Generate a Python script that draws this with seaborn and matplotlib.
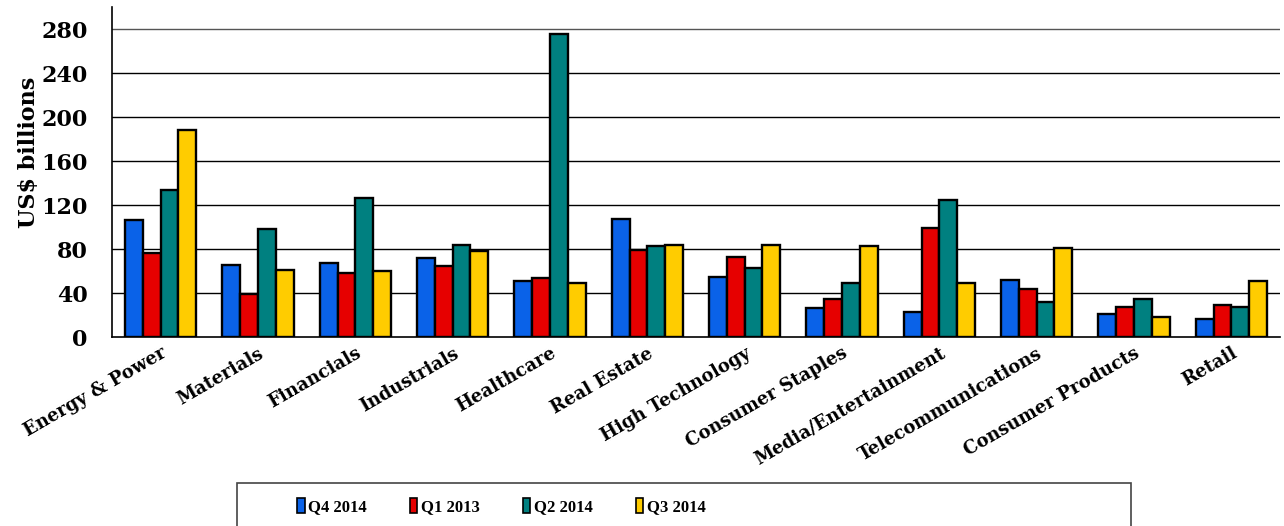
import numpy as np
import pandas as pd
import seaborn as sns
import matplotlib.pyplot as plt
from matplotlib.patches import Rectangle
from matplotlib.ticker import FixedLocator

sectors = ["Energy & Power", "Materials", "Financials", "Industrials", "Healthcare",
           "Real Estate", "High Technology", "Consumer Staples", "Media/Entertainment",
           "Telecommunications", "Consumer Products", "Retail"]
quarters = ["Q4 2014", "Q1 2013", "Q2 2014", "Q3 2014"]

q4_2014 = [106.6, 65.7, 67.2, 72.0, 51.5, 107.8, 55.1, 26.3, 22.7, 52.1, 21.5, 17.0]
q1_2013 = [76.9, 39.4, 58.1, 64.5, 53.9, 79.3, 72.7, 34.8, 99.3, 43.9, 27.6, 29.7]
q2_2014 = [133.5, 98.7, 126.2, 83.9, 275.8, 83.0, 63.0, 49.0, 124.7, 32.1, 35.1, 27.6]
q3_2014 = [188.0, 60.9, 59.9, 78.7, 49.0, 84.2, 83.6, 83.0, 49.7, 81.4, 18.2, 51.5]

colors = ["#0A62E8", "#E60000", "#008080", "#FFCC00"]
yticks = [0, 40, 80, 120, 160, 200, 240, 280]

df = pd.DataFrame({
    "Sector": np.repeat(sectors, 4),
    "Quarter": quarters * len(sectors),
    "Value": np.ravel(np.column_stack([q4_2014, q1_2013, q2_2014, q3_2014])),
})

sns.set_theme(style="white")
plt.rcParams["font.family"] = ["DejaVu Serif"]
plt.rcParams["font.weight"] = "bold"
for key in ["text.color", "axes.labelcolor", "xtick.color", "ytick.color"]:
    plt.rcParams[key] = "black"

fig = plt.figure(figsize=(12.84, 5.26), dpi=100)
ax = fig.add_axes([112 / 1284, 1 - 337.3 / 526, (1280 - 112) / 1284, (337.3 - 7) / 526])

sns.barplot(data=df, x="Sector", y="Value", hue="Quarter", order=sectors,
            hue_order=quarters, palette=colors, width=0.73, gap=0,
            edgecolor="black", linewidth=1.7, saturation=1, ax=ax, legend=True)

ax.set_ylim(0, 300)
ax.set_xlim(-0.5, len(sectors) - 0.5)
ax.set_yticks(yticks)
ax.set_yticklabels([str(t) for t in yticks], fontsize=16, fontweight="bold")
for t in yticks[1:]:
    ax.axhline(t, color="#555555" if t == yticks[-1] else "black", linewidth=1.0, zorder=0)

ax.set_xlabel("")
ax.set_ylabel("US$ billions", fontsize=16, fontweight="bold", labelpad=1, y=0.561)

# category labels centred on groups, tick marks on group boundaries
ax.xaxis.set_minor_locator(FixedLocator(np.arange(-0.5, len(sectors), 1.0)))
ax.tick_params(axis="x", which="major", length=0, pad=5)
ax.tick_params(axis="x", which="minor", length=6, width=1, color="black", direction="out")
ax.tick_params(axis="y", length=7, width=1, color="black", direction="out", pad=10.5)
ax.set_xticks(range(len(sectors)))
ax.set_xticklabels(sectors, rotation=30, ha="right", rotation_mode="anchor",
                   fontsize=13, fontweight="bold")

for side in ["top", "right"]:
    ax.spines[side].set_visible(False)
for side in ["left", "bottom"]:
    ax.spines[side].set_color("black")
    ax.spines[side].set_linewidth(1.2)

handles, labels = ax.get_legend_handles_labels()
ax.get_legend().remove()
for h in handles:
    h.set_linewidth(1.2)
fig.legend(handles, labels, loc="center left", bbox_to_anchor=(282 / 1284, 1 - 507 / 526),
           ncol=4, frameon=False, handlelength=0.45, handleheight=1.0, handletextpad=0.2,
           columnspacing=2.6, prop={"family": "Liberation Serif", "weight": "bold", "size": 12})
fig.patches.append(Rectangle((237 / 1284, -0.05), (1131 - 237) / 1284, 0.05 + (526 - 483) / 526,
                             transform=fig.transFigure, fill=False, edgecolor="#444444",
                             linewidth=1.2))

fig.savefig("out.png", dpi=100, facecolor="white")
